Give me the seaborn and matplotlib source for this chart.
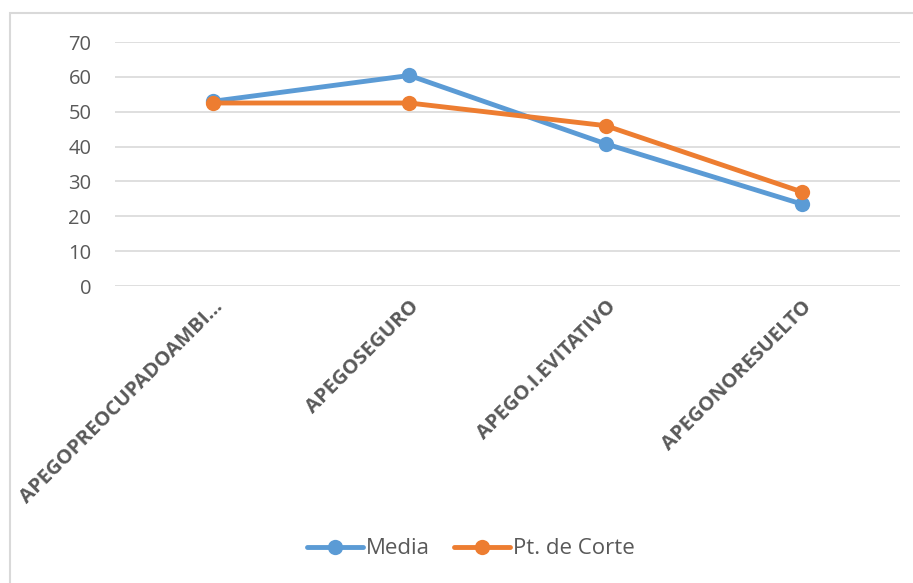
import matplotlib
matplotlib.use("Agg")
import matplotlib.pyplot as plt
import matplotlib.patches as mpatches
import seaborn as sns
import pandas as pd

categories = ["APEGOPREOCUPADOAMBI...", "APEGOSEGURO", "APEGO.I.EVITATIVO", "APEGONORESUELTO"]
media = [53.0, 60.4, 40.8, 23.5]
corte = [52.5, 52.5, 46.0, 27.0]
series_names = ["Media", "Pt. de Corte"]
yticks = [0, 10, 20, 30, 40, 50, 60, 70]

df = pd.DataFrame({
    "cat": categories * 2,
    "val": media + corte,
    "serie": [series_names[0]] * 4 + [series_names[1]] * 4,
})

sns.set_theme(style="white")
plt.rcParams["font.family"] = ["Open Sans", "DejaVu Sans"]

fig = plt.figure(figsize=(9.13, 5.83), dpi=100)
ax = fig.add_axes([115 / 913, 1 - 286 / 583, 785 / 913, 244 / 583])

palette = {"Media": "#5B9BD5", "Pt. de Corte": "#ED7D31"}
sns.lineplot(data=df, x="cat", y="val", hue="serie", palette=palette, sort=False,
             marker="o", markersize=11, markeredgewidth=0, linewidth=3.5, ax=ax,
             legend=True)

ax.set_xlim(-0.5, 3.5)
ax.set_ylim(0, 70)
ax.set_yticks(yticks)
ax.set_yticklabels([str(v) for v in yticks])
ax.yaxis.grid(True, color="#d9d9d9", linewidth=1.2)
ax.set_axisbelow(True)
for s in ax.spines.values():
    s.set_visible(False)
ax.set_xlabel("")
ax.set_ylabel("")
ax.tick_params(axis="y", length=0, pad=17, labelsize=14.5, labelcolor="#595959")
ax.tick_params(axis="x", length=0, pad=8, labelsize=14.6, labelcolor="#595959")
ax.set_xticks(range(len(categories)))
ax.set_xticklabels(categories, rotation=45, ha="right", rotation_mode="anchor", fontweight="bold")

leg = ax.legend(loc="center", bbox_to_anchor=(471 / 913, 1 - 549 / 583), bbox_transform=fig.transFigure,
                ncol=2, frameon=False, fontsize=16, handlelength=2.5, handletextpad=0.15,
                columnspacing=1.1)
for t in leg.get_texts():
    t.set_color("#595959")

frame = mpatches.Rectangle((10 / 913, -0.05), 1.0, 1 - 13 / 583 + 0.05, transform=fig.transFigure,
                           fill=False, edgecolor="#d9d9d9", linewidth=1.5, clip_on=False)
fig.patches.append(frame)

fig.savefig("out.png", dpi=100, facecolor="white")
